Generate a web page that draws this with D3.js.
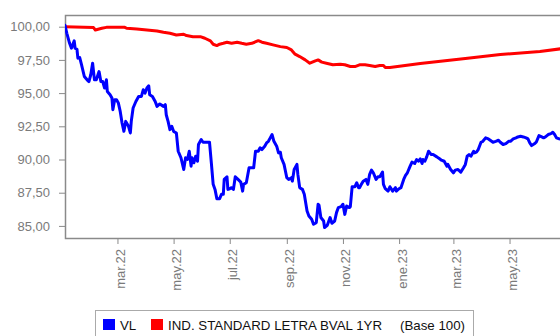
<!DOCTYPE html>
<html>
<head>
<meta charset="utf-8">
<script src="https://cdn.jsdelivr.net/npm/d3@7"></script>
<style>
  html, body { margin: 0; padding: 0; background: #fff; }
  svg { display: block; font-family: "Liberation Sans", Arial, Helvetica, sans-serif; }
</style>
</head>
<body>
<svg id="chart" width="560" height="336"></svg>
<script>
// Fund NAV (VL), base 100
const vlDates = [
  "2022-01-03","2022-01-05","2022-01-08","2022-01-10","2022-01-13","2022-01-14","2022-01-16","2022-01-17","2022-01-19","2022-01-21",
  "2022-01-24","2022-01-27","2022-01-29","2022-01-31","2022-02-02","2022-02-04","2022-02-06","2022-02-09","2022-02-11","2022-02-13",
  "2022-02-15","2022-02-17","2022-02-18","2022-02-21","2022-02-23","2022-02-24","2022-02-26","2022-02-28","2022-03-02","2022-03-04",
  "2022-03-06","2022-03-08","2022-03-10","2022-03-13","2022-03-15","2022-03-16","2022-03-18","2022-03-21","2022-03-24","2022-03-27",
  "2022-03-29","2022-03-31","2022-04-02","2022-04-04","2022-04-05","2022-04-08","2022-04-11","2022-04-13","2022-04-16","2022-04-20",
  "2022-04-22","2022-04-23","2022-04-25","2022-04-27","2022-04-29","2022-05-01","2022-05-04","2022-05-06","2022-05-09","2022-05-12",
  "2022-05-14","2022-05-16","2022-05-18","2022-05-20","2022-05-21","2022-05-23","2022-05-25","2022-05-27","2022-05-28","2022-05-31",
  "2022-06-02","2022-06-06","2022-06-09","2022-06-11","2022-06-13","2022-06-15","2022-06-17","2022-06-20","2022-06-22","2022-06-24",
  "2022-06-25","2022-06-28","2022-06-29","2022-07-01","2022-07-03","2022-07-05","2022-07-07","2022-07-10","2022-07-13","2022-07-15",
  "2022-07-16","2022-07-19","2022-07-22","2022-07-25","2022-07-27","2022-07-29","2022-08-01","2022-08-03","2022-08-05","2022-08-08",
  "2022-08-10","2022-08-12","2022-08-14","2022-08-16","2022-08-18","2022-08-21","2022-08-23","2022-08-25","2022-08-26","2022-08-29",
  "2022-09-01","2022-09-03","2022-09-06","2022-09-07","2022-09-09","2022-09-12","2022-09-13","2022-09-15","2022-09-18","2022-09-20",
  "2022-09-23","2022-09-25","2022-09-28","2022-09-30","2022-10-02","2022-10-03","2022-10-05","2022-10-06","2022-10-08","2022-10-11",
  "2022-10-12","2022-10-15","2022-10-18","2022-10-20","2022-10-23","2022-10-25","2022-10-27","2022-10-30","2022-11-01","2022-11-03",
  "2022-11-05","2022-11-08","2022-11-09","2022-11-11","2022-11-14","2022-11-16","2022-11-18","2022-11-19","2022-11-21","2022-11-23",
  "2022-11-26","2022-11-28","2022-11-30","2022-12-02","2022-12-04","2022-12-07","2022-12-09","2022-12-11","2022-12-14","2022-12-15",
  "2022-12-17","2022-12-20","2022-12-22","2022-12-25","2022-12-28","2022-12-29","2023-01-01","2023-01-03","2023-01-06","2023-01-08",
  "2023-01-10","2023-01-13","2023-01-15","2023-01-18","2023-01-20","2023-01-22","2023-01-24","2023-01-26","2023-01-27","2023-01-29",
  "2023-01-31","2023-02-02","2023-02-05","2023-02-07","2023-02-11","2023-02-14","2023-02-16","2023-02-19","2023-02-22","2023-02-23",
  "2023-02-26","2023-03-01","2023-03-03","2023-03-06","2023-03-09","2023-03-12","2023-03-14","2023-03-16","2023-03-18","2023-03-20",
  "2023-03-23","2023-03-24","2023-03-26","2023-03-28","2023-03-31","2023-04-02","2023-04-05","2023-04-08","2023-04-10","2023-04-13",
  "2023-04-16","2023-04-19","2023-04-21","2023-04-24","2023-04-27","2023-04-30","2023-05-02","2023-05-05","2023-05-08","2023-05-10",
  "2023-05-13","2023-05-16","2023-05-19","2023-05-21","2023-05-23","2023-05-25","2023-05-28","2023-05-30","2023-06-02","2023-06-05",
  "2023-06-07","2023-06-09","2023-06-12","2023-06-15","2023-06-17","2023-06-19","2023-06-21","2023-06-24"
];
const vlValues = [
  100.10, 99.50, 98.75, 98.38, 98.93, 98.38, 98.30, 97.63, 97.67, 97.13,
  96.25, 96.00, 95.87, 96.38, 97.25, 96.00, 96.00, 96.62, 95.87, 95.87,
  95.38, 96.00, 95.12, 94.88, 94.63, 93.75, 94.50, 94.50, 94.25, 93.62,
  92.75, 92.12, 92.87, 92.50, 92.00, 92.87, 93.88, 94.37, 94.75, 94.75,
  95.25, 95.00, 95.38, 95.55, 94.88, 94.75, 94.37, 94.00, 94.18, 94.00,
  94.13, 93.37, 92.87, 92.25, 92.50, 92.12, 92.00, 90.62, 90.13, 89.25,
  90.13, 90.00, 90.62, 89.50, 90.13, 89.75, 90.25, 89.87, 91.13, 91.50,
  91.30, 91.30, 91.30, 89.75, 88.13, 87.75, 87.05, 87.05, 87.38, 87.38,
  88.50, 88.70, 87.75, 87.80, 87.88, 87.75, 88.70, 88.50, 88.30, 87.62,
  88.13, 88.25, 89.38, 89.38, 89.38, 90.62, 90.62, 90.88, 90.75, 91.00,
  91.25, 91.37, 91.63, 91.88, 91.37, 91.00, 90.50, 90.55, 90.13, 89.63,
  88.63, 88.50, 88.63, 88.37, 89.25, 89.63, 88.88, 87.88, 87.75, 87.38,
  86.12, 85.75, 85.50, 85.12, 85.20, 85.25, 86.63, 86.55, 85.63, 85.37,
  84.88, 85.05, 85.63, 85.20, 85.37, 86.00, 86.38, 86.45, 86.63, 85.87,
  86.50, 86.38, 86.45, 87.95, 87.95, 88.25, 87.88, 87.88, 88.13, 88.37,
  88.50, 88.13, 88.88, 89.20, 89.00, 88.50, 88.70, 88.70, 89.05, 88.13,
  87.80, 87.62, 87.95, 87.62, 87.88, 87.62, 87.80, 87.88, 88.50, 88.80,
  89.00, 89.50, 89.80, 89.70, 90.00, 89.87, 90.05, 89.70, 90.00, 89.87,
  90.20, 90.62, 90.37, 90.37, 90.20, 90.05, 89.95, 89.87, 89.50, 89.63,
  89.25, 89.00, 89.20, 89.25, 89.05, 89.38, 89.63, 90.25, 90.37, 90.25,
  90.62, 90.50, 90.55, 90.75, 91.30, 91.37, 91.63, 91.55, 91.45, 91.30,
  91.37, 91.45, 91.30, 91.13, 91.20, 91.37, 91.37, 91.55, 91.63, 91.70,
  91.75, 91.70, 91.63, 91.55, 91.25, 91.05, 91.18, 91.30, 91.80, 91.70,
  91.63, 91.70, 91.88, 91.95, 92.05, 91.88, 91.63, 91.55
];

// Benchmark: IND. STANDARD LETRA BVAL 1YR, base 100
const indexDates = [
  "2022-01-03","2022-02-03","2022-02-05","2022-02-12","2022-02-17","2022-02-28","2022-03-09","2022-03-11","2022-03-22","2022-04-02",
  "2022-04-13","2022-04-20","2022-04-27","2022-05-04","2022-05-12","2022-05-15","2022-05-22","2022-05-30","2022-06-04","2022-06-10",
  "2022-06-13","2022-06-17","2022-06-20","2022-06-24","2022-06-28","2022-07-03","2022-07-09","2022-07-14","2022-07-19","2022-07-25",
  "2022-07-28","2022-08-01","2022-08-05","2022-08-10","2022-08-17","2022-08-25","2022-09-01","2022-09-06","2022-09-10","2022-09-15",
  "2022-09-21","2022-09-26","2022-10-02","2022-10-05","2022-10-09","2022-10-14","2022-10-21","2022-10-29","2022-11-03","2022-11-09",
  "2022-11-14","2022-11-19","2022-11-25","2022-11-30","2022-12-06","2022-12-11","2022-12-15","2022-12-17","2022-12-22","2023-01-24",
  "2023-03-14","2023-04-21","2023-06-03","2023-06-26"
];
const indexValues = [
  100.00, 99.93, 99.75, 99.88, 99.95, 99.95, 99.95, 99.88, 99.83, 99.75,
  99.68, 99.58, 99.50, 99.38, 99.43, 99.33, 99.25, 99.25, 99.13, 98.93,
  98.68, 98.58, 98.68, 98.75, 98.83, 98.75, 98.83, 98.75, 98.68, 98.75,
  98.83, 98.95, 98.83, 98.75, 98.63, 98.50, 98.43, 98.25, 97.93, 97.75,
  97.50, 97.25, 97.43, 97.50, 97.33, 97.25, 97.13, 97.18, 97.13, 97.00,
  97.00, 97.13, 97.13, 97.08, 97.00, 97.08, 97.08, 96.93, 96.93, 97.22,
  97.60, 97.90, 98.13, 98.34
];

// Axis ticks
const xTickDates = ["2022-03-01","2022-05-01","2022-07-01","2022-09-01","2022-11-01","2023-01-01","2023-03-01","2023-05-01"];
const xTickLabels = ["mar.22","may.22","jul.22","sep.22","nov.22","ene.23","mar.23","may.23"];
const yTickValues = [85, 87.5, 90, 92.5, 95, 97.5, 100];

// Legend entries
const legendLabels = ["VL", "IND. STANDARD LETRA BVAL 1YR"];
const legendNote = "(Base 100)";

const parse = d3.utcParse("%Y-%m-%d");
const esLocale = d3.formatLocale({ decimal: ",", thousands: ".", grouping: [3], currency: ["", "€"] });
const fmt = esLocale.format(".2f");

const svg = d3.select("#chart");
const plot = { left: 65, top: 15, right: 562, bottom: 238 };

const x = d3.scaleUtc()
  .domain([parse("2022-01-03"), parse("2023-06-27")])
  .range([plot.left, plot.right]);
const y = d3.scaleLinear()
  .domain([84.09, 100.88])
  .range([plot.bottom, plot.top]);

const axisColor = "#8a8a8a";
const textColor = "#7a7a7a";

svg.append("defs").append("clipPath").attr("id", "plotClip")
  .append("rect")
  .attr("x", plot.left).attr("y", plot.top)
  .attr("width", plot.right - plot.left).attr("height", plot.bottom - plot.top);

// Y axis
const yAxis = svg.append("g")
  .attr("transform", `translate(${plot.left},0)`)
  .call(d3.axisLeft(y).tickValues(yTickValues).tickFormat(fmt).tickSizeInner(6).tickSizeOuter(0).tickPadding(9));
yAxis.select(".domain").remove();
yAxis.selectAll("line").attr("stroke", axisColor);
yAxis.selectAll("text").attr("fill", textColor).style("font-size", "13px");

// X axis with vertical labels
const xAxis = svg.append("g")
  .attr("transform", `translate(0,${plot.bottom})`)
  .call(d3.axisBottom(x)
    .tickValues(xTickDates.map(parse))
    .tickFormat((d, i) => xTickLabels[i])
    .tickSizeInner(6).tickSizeOuter(0));
xAxis.select(".domain").remove();
xAxis.selectAll("line").attr("stroke", axisColor);
xAxis.selectAll("text")
  .attr("fill", textColor)
  .style("font-size", "13px")
  .attr("transform", "rotate(-90)")
  .attr("text-anchor", "end")
  .attr("x", -11)
  .attr("y", 7)
  .attr("dy", 0);

// Plot frame
svg.append("rect")
  .attr("x", plot.left + 0.5).attr("y", plot.top + 0.5)
  .attr("width", plot.right - plot.left).attr("height", plot.bottom - plot.top)
  .attr("fill", "none").attr("stroke", axisColor).attr("stroke-width", 1.5);

const line = d3.line().x(d => x(d[0])).y(d => y(d[1]));
const lines = svg.append("g").attr("clip-path", "url(#plotClip)");

lines.append("path")
  .datum(indexDates.map((d, i) => [parse(d), indexValues[i]]))
  .attr("d", line)
  .attr("fill", "none").attr("stroke", "#ff0000").attr("stroke-width", 3)
  .attr("stroke-linejoin", "round").attr("stroke-linecap", "round");

lines.append("path")
  .datum(vlDates.map((d, i) => [parse(d), vlValues[i]]))
  .attr("d", line)
  .attr("fill", "none").attr("stroke", "#0000ff").attr("stroke-width", 3)
  .attr("stroke-linejoin", "round").attr("stroke-linecap", "round");

// Legend
const legend = svg.append("g");
legend.append("rect")
  .attr("x", 95.5).attr("y", 310.5).attr("width", 378).attr("height", 40)
  .attr("fill", "#fff").attr("stroke", "#aaaaaa").attr("stroke-width", 1);

const legendColors = ["#0000ff", "#ff0000"];
const legendX = [103, 151];
legendLabels.forEach((lab, i) => {
  legend.append("rect")
    .attr("x", legendX[i]).attr("y", 319).attr("width", 12).attr("height", 11)
    .attr("fill", legendColors[i]);
  legend.append("text")
    .attr("x", legendX[i] + 17).attr("y", 330)
    .attr("fill", "#111").style("font-size", "13.3px")
    .text(lab);
});
legend.append("text")
  .attr("x", 400).attr("y", 330)
  .attr("fill", "#111").style("font-size", "13.3px")
  .text(legendNote);
</script>
</body>
</html>
